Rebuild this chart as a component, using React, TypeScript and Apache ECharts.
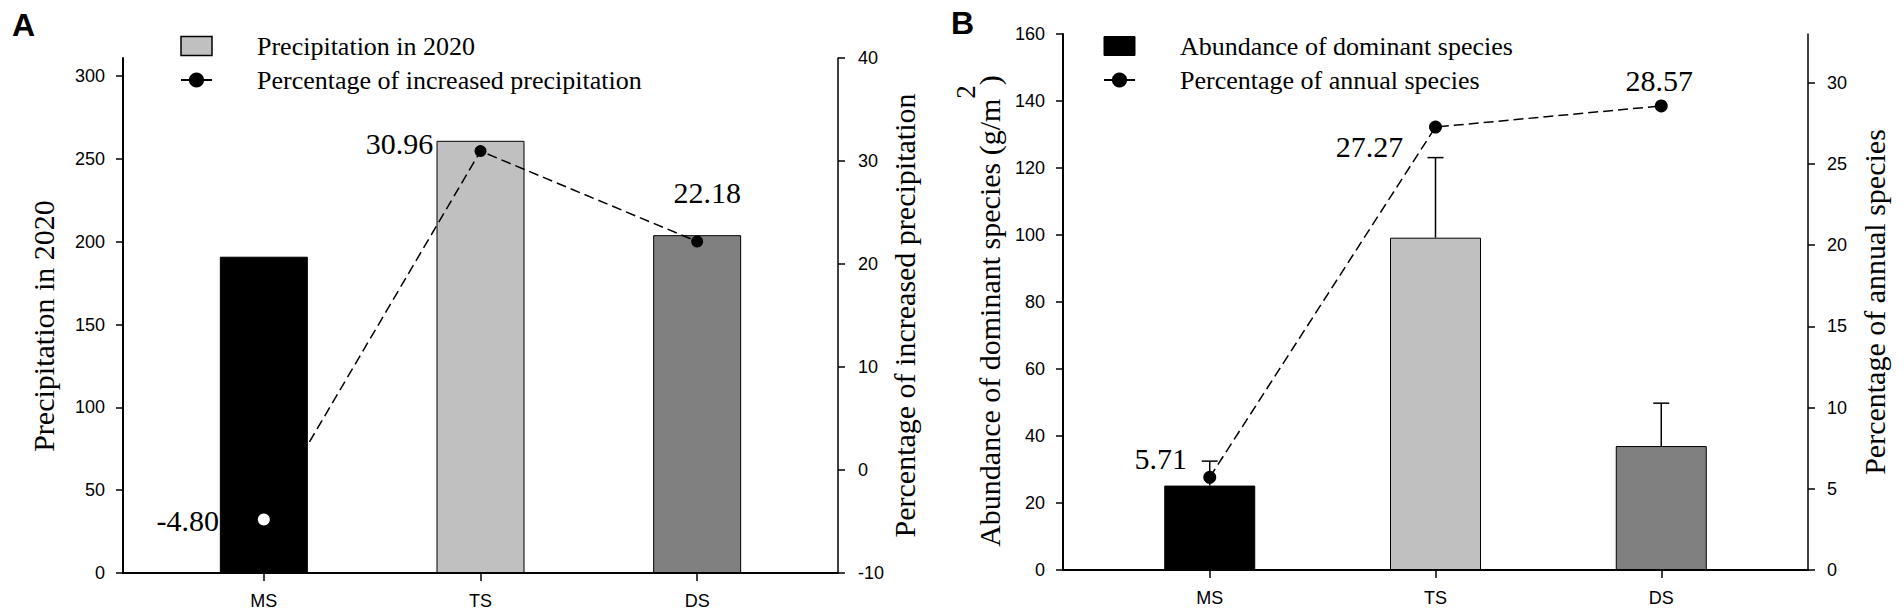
import React, { useEffect, useRef } from "react";
import * as echarts from "echarts";

const categories = ["MS", "TS", "DS"];
// Panel A
const precip2020 = [191, 261, 204];
const precipIncrease = [-4.8, 30.96, 22.18];
// Panel B
const abundance = [25.2, 99.2, 37.0];
const abundanceErr = [7.3, 23.9, 12.8];
const annualPct = [5.71, 27.27, 28.57];

const ticksALeft = [0, 50, 100, 150, 200, 250, 300];
const ticksARight = [-10, 0, 10, 20, 30, 40];
const ticksBLeft = [0, 20, 40, 60, 80, 100, 120, 140, 160];
const ticksBRight = [0, 5, 10, 15, 20, 25, 30];
const catTicks = [0, 1, 2];

const barColors = ["#000000", "#c0c0c0", "#808080"];
const labelOffsetsA = [[-76, 1], [-81, -8], [10, -49]];
const labelOffsetsB = [[-49, -19], [-66, 19], [-2, -25]];

const SERIF = "'Liberation Serif', 'Times New Roman', serif";
const SANS = "'Liberation Sans', Arial, sans-serif";

function xAxisCfg(gridIndex: number) {
  return {
    type: "value",
    gridIndex,
    min: -0.65,
    max: 2.65,
    splitLine: { show: false },
    axisLine: { show: true, onZero: false, lineStyle: { color: "#000", width: 2 } },
    axisTick: { show: true, length: 8, inside: false, customValues: catTicks, lineStyle: { color: "#000", width: 1.5 } },
    axisLabel: {
      customValues: catTicks,
      formatter: (v: number) => categories[Math.round(v)] ?? "",
      fontFamily: SANS,
      fontSize: 18,
      color: "#000",
      margin: 19,
    },
  };
}

function yAxisCfg(o: any) {
  return {
    type: "value",
    gridIndex: o.grid,
    position: o.position,
    min: o.min,
    max: o.max,
    splitLine: { show: false },
    axisLine: { show: true, onZero: false, lineStyle: { color: "#000", width: o.lw } },
    axisTick: { show: true, length: 7, customValues: o.ticks, lineStyle: { color: "#000", width: 1.5 } },
    axisLabel: { customValues: o.ticks, fontFamily: SANS, fontSize: 18, color: "#000", margin: o.margin },
    name: o.name,
    nameLocation: "middle",
    nameGap: o.nameGap,
    nameTextStyle: Object.assign(
      { fontFamily: SERIF, fontSize: 30, color: "#000", padding: o.padding || 0 },
      o.rich ? { rich: o.rich } : {}
    ),
  };
}

function legendCfg(left: number, names: string[], icons: any[]) {
  return {
    orient: "vertical",
    left,
    top: 33,
    padding: 0,
    itemWidth: 31,
    itemHeight: 19,
    itemGap: 8,
    selectedMode: false,
    lineStyle: { type: "solid", width: 2, color: "#000" },
    textStyle: { fontFamily: SERIF, fontSize: 26, lineHeight: 26, color: "#000", padding: [0, 0, 0, 40] },
    data: names.map((n, i) => Object.assign({ name: n }, icons[i])),
  };
}

export default function App() {
  const ref = useRef<HTMLDivElement>(null);
  useEffect(() => {
    if (!ref.current) return;
    const chart = echarts.init(ref.current, null, { renderer: "svg" });
    const labelStyle = { show: true, position: "inside", fontFamily: SERIF, fontSize: 30, color: "#000" };
    const panelLetter = (text: string, x: number, y: number) => ({
      type: "text",
      x,
      y,
      style: {
        text,
        fontFamily: SANS,
        fontWeight: "bold",
        fontSize: 32,
        fill: "#000",
        align: "left",
        verticalAlign: "middle",
      },
    });
    const option: any = {
      animation: false,
      backgroundColor: "#fff",
      graphic: [panelLetter("A", 12, 25), panelLetter("B", 951, 23)],
      grid: [
        { left: 123, top: 58, width: 715, height: 515 },
        { left: 1063, top: 34, width: 745, height: 536 },
      ],
      legend: [
        legendCfg(180, ["Precipitation in 2020", "Percentage of increased precipitation"], [
          { icon: "rect", itemStyle: { color: "#c0c0c0", borderColor: "#000", borderWidth: 1.5 } },
          {},
        ]),
        legendCfg(1103, ["Abundance of dominant species", "Percentage of annual species"], [
          { icon: "rect", itemStyle: { color: "#000", borderColor: "#000", borderWidth: 1 } },
          {},
        ]),
      ],
      xAxis: [xAxisCfg(0), xAxisCfg(1)],
      yAxis: [
        yAxisCfg({ grid: 0, position: "left", min: 0, max: 311, ticks: ticksALeft, lw: 2, margin: 18, name: "Precipitation in 2020", nameGap: 65, padding: [0, 21, 0, 0] }),
        yAxisCfg({ grid: 0, position: "right", min: -10, max: 40, ticks: ticksARight, lw: 1.5, margin: 20, name: "Percentage of increased precipitation", nameGap: 51 }),
        yAxisCfg({
          grid: 1, position: "left", min: 0, max: 160, ticks: ticksBLeft, lw: 2, margin: 18,
          name: "{a|Abundance of dominant species (g/m}{s|2}{a|)}", nameGap: 59, padding: [0, 18, 0, 0],
          rich: {
            a: { fontFamily: SERIF, fontSize: 30, color: "#000", lineHeight: 52, verticalAlign: "bottom", padding: 0 },
            s: { fontFamily: SERIF, fontSize: 27, color: "#000", lineHeight: 27, verticalAlign: "top", padding: 0 },
          },
        }),
        yAxisCfg({ grid: 1, position: "right", min: 0, max: 33, ticks: ticksBRight, lw: 1.5, margin: 19, name: "Percentage of annual species", nameGap: 51 }),
      ],
      series: [
        {
          type: "bar",
          name: "Precipitation in 2020",
          xAxisIndex: 0,
          yAxisIndex: 0,
          barWidth: 88,
          z: 2,
          itemStyle: { color: "#c0c0c0", borderColor: "#000", borderWidth: 1 },
          data: precip2020.map((v, i) => ({ value: [i, v], itemStyle: { color: barColors[i] } })),
        },
        {
          type: "line",
          name: "Percentage of increased precipitation",
          xAxisIndex: 0,
          yAxisIndex: 1,
          z: 4,
          symbol: "circle",
          symbolSize: 12,
          itemStyle: { color: "#000" },
          lineStyle: { color: "#000", width: 1.5, type: [10, 5] },
          label: Object.assign({}, labelStyle, { formatter: (p: any) => Number(p.value[1]).toFixed(2) }),
          data: precipIncrease.map((v, i) => ({
            value: [i, v],
            itemStyle: i === 0 ? { color: "#fff" } : undefined,
            label: { offset: labelOffsetsA[i] },
          })),
        },
        {
          type: "bar",
          name: "Abundance of dominant species",
          xAxisIndex: 1,
          yAxisIndex: 2,
          barWidth: 91,
          z: 2,
          itemStyle: { color: "#000", borderColor: "#000", borderWidth: 1 },
          data: abundance.map((v, i) => ({ value: [i, v], itemStyle: { color: barColors[i] } })),
        },
        {
          type: "custom",
          name: "error",
          xAxisIndex: 1,
          yAxisIndex: 2,
          z: 3,
          encode: { x: 0, y: 1 },
          renderItem: (params: any, api: any) => {
            const x = api.value(0);
            const v = api.value(1);
            const e = api.value(2);
            const base = api.coord([x, v]);
            const top = api.coord([x, v + e]);
            const hw = 8;
            const st = { stroke: "#000", lineWidth: 1.5 };
            return {
              type: "group",
              children: [
                { type: "line", shape: { x1: base[0], y1: base[1], x2: top[0], y2: top[1] }, style: st },
                { type: "line", shape: { x1: top[0] - hw, y1: top[1], x2: top[0] + hw, y2: top[1] }, style: st },
              ],
            };
          },
          data: abundance.map((v, i) => [i, v, abundanceErr[i]]),
        },
        {
          type: "line",
          name: "Percentage of annual species",
          xAxisIndex: 1,
          yAxisIndex: 3,
          z: 4,
          symbol: "circle",
          symbolSize: 13,
          itemStyle: { color: "#000" },
          lineStyle: { color: "#000", width: 1.5, type: [10, 5] },
          label: Object.assign({}, labelStyle, { formatter: (p: any) => Number(p.value[1]).toFixed(2) }),
          data: annualPct.map((v, i) => ({ value: [i, v], label: { offset: labelOffsetsB[i] } })),
        },
      ],
    };
    chart.setOption(option);
    return () => chart.dispose();
  }, []);
  return (
    <div
      ref={ref}
      style={{ position: "fixed", left: 0, top: 0, width: 1904, height: 612, background: "#fff" }}
    />
  );
}
